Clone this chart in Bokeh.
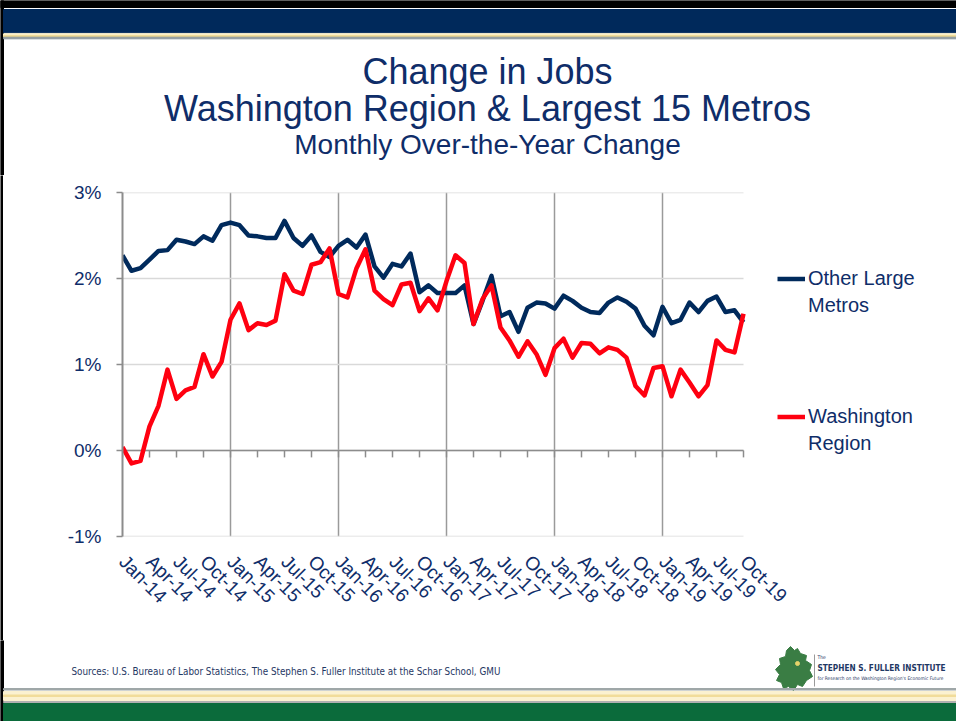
import numpy as np
from bokeh.plotting import figure
from bokeh.models import Range1d, FixedTicker, Legend, LegendItem
from bokeh.layouts import column, row
from bokeh.embed import file_html
from bokeh.resources import INLINE
from bokeh.core.properties import value

# ---------------- data ----------------
tick_labels = ["Jan-14", "Apr-14", "Jul-14", "Oct-14",
               "Jan-15", "Apr-15", "Jul-15", "Oct-15",
               "Jan-16", "Apr-16", "Jul-16", "Oct-16",
               "Jan-17", "Apr-17", "Jul-17", "Oct-17",
               "Jan-18", "Apr-18", "Jul-18", "Oct-18",
               "Jan-19", "Apr-19", "Jul-19", "Oct-19"]
y_ticks = [-1, 0, 1, 2, 3]
y_tick_labels = ["-1%", "0%", "1%", "2%", "3%"]

other_large = [2.27, 2.09, 2.12, 2.22, 2.32, 2.33, 2.45, 2.43, 2.40, 2.49, 2.44, 2.62,
               2.65, 2.62, 2.50, 2.49, 2.47, 2.47, 2.67, 2.47, 2.38, 2.50, 2.31, 2.25,
               2.38, 2.45, 2.36, 2.51, 2.14, 2.01, 2.17, 2.14, 2.29, 1.84, 1.92, 1.83,
               1.83, 1.83, 1.92, 1.47, 1.74, 2.03, 1.56, 1.61, 1.38, 1.66, 1.72, 1.71,
               1.65, 1.80, 1.74, 1.66, 1.61, 1.60, 1.72, 1.78, 1.73, 1.65, 1.45, 1.34,
               1.67, 1.48, 1.52, 1.72, 1.61, 1.74, 1.79, 1.61, 1.63, 1.49]
washington = [0.04, -0.15, -0.12, 0.28, 0.52, 0.94, 0.60, 0.70, 0.74, 1.12, 0.86, 1.03,
              1.52, 1.71, 1.40, 1.48, 1.46, 1.51, 2.05, 1.86, 1.82, 2.16, 2.19, 2.35,
              1.82, 1.78, 2.12, 2.34, 1.86, 1.76, 1.69, 1.93, 1.95, 1.62, 1.77, 1.63,
              1.97, 2.27, 2.18, 1.47, 1.76, 1.92, 1.43, 1.28, 1.09, 1.27, 1.12, 0.88,
              1.19, 1.30, 1.08, 1.25, 1.24, 1.13, 1.20, 1.17, 1.08, 0.75, 0.64, 0.96,
              0.98, 0.63, 0.94, 0.79, 0.63, 0.76, 1.28, 1.17, 1.14, 1.59]

months = list(range(len(other_large)))
quarter_ticks = months[::3]
year_ticks = months[::12]

# ---------------- styles ----------------
W = 956
STRIP = 3
FONT = "Liberation Sans"
NARROW = "DejaVu Sans Condensed, Liberation Sans"
TXT = "#0F2D69"
NAVY = "#002A5C"
RED = "#FF0010"
PX_PER_MONTH = 9.0
LEGEND_SPACE = 213  # px to the right of the last month (legend area)


def deco_fig(h, y0, y1):
    f = figure(width=W, height=h, x_range=Range1d(0, W), y_range=Range1d(y1, y0),
               output_backend="svg", toolbar_location=None, min_border=0,
               x_axis_location=None, y_axis_location=None, title=None,
               frame_align=False)
    f.grid.visible = False
    f.outline_line_color = None
    f.quad(left=0, right=STRIP, top=y0, bottom=y1, color="black")
    return f


# ---------------- header ----------------
header = deco_fig(175, 0, 175)
header.quad(left=0, right=W, top=0, bottom=7, color="black")
header.quad(left=STRIP, right=W, top=9, bottom=32.3, color="#00295B")
header.quad(left=STRIP, right=W, top=33.3, bottom=36.5, color="#FBEFC6")
header.quad(left=STRIP, right=W, top=35.3, bottom=36.3, color="#EFD98E")
header.quad(left=STRIP, right=W, top=36.7, bottom=38.3, color="#8E9A9F")
for txt, yc, fs in [("Change in Jobs", 70.5, "36px"),
                    ("Washington Region & Largest 15 Metros", 107.5, "36px"),
                    ("Monthly Over-the-Year Change", 143.5, "28px")]:
    header.text(x=[487], y=[yc], text=[txt], text_font=value(FONT), text_font_size=fs,
                text_align="center", text_baseline="middle", text_color=TXT)

# ---------------- main chart ----------------
strip = figure(width=STRIP, height=465, output_backend="svg", toolbar_location=None,
               min_border=0, x_axis_location=None, y_axis_location=None, title=None,
               frame_align=False, background_fill_color="black", border_fill_color="black")
strip.grid.visible = False
strip.outline_line_color = None

x_end = months[-1] + LEGEND_SPACE / PX_PER_MONTH
p = figure(width=W - STRIP, height=465, x_range=Range1d(months[0], x_end),
           y_range=Range1d(y_ticks[0], y_ticks[-1]),
           output_backend="svg", toolbar_location=None, title=None, frame_align=False,
           min_border_left=122 - STRIP, min_border_right=0, min_border_top=17, min_border_bottom=104)
p.outline_line_color = None

p.xaxis.ticker = FixedTicker(ticks=quarter_ticks)
p.xaxis.major_label_overrides = {t: lab for t, lab in zip(quarter_ticks, tick_labels)}
p.xaxis.major_label_orientation = -np.pi / 4
p.xaxis.axis_line_color = None
p.xaxis.major_tick_line_color = None
p.xaxis.minor_tick_line_color = None
p.xaxis.major_label_text_font_size = "19px"
p.xaxis.major_label_text_font = FONT
p.xaxis.major_label_text_color = TXT
p.xaxis.major_label_standoff = 16

p.yaxis.ticker = FixedTicker(ticks=y_ticks)
p.yaxis.major_label_overrides = {t: lab for t, lab in zip(y_ticks, y_tick_labels)}
p.yaxis.axis_line_color = "#8C8C8C"
p.yaxis.axis_line_width = 2
p.yaxis.major_tick_line_color = "#8C8C8C"
p.yaxis.major_tick_line_width = 1.5
p.yaxis.major_tick_out = 6
p.yaxis.major_tick_in = 0
p.yaxis.minor_tick_line_color = None
p.yaxis.major_label_text_font_size = "19px"
p.yaxis.major_label_text_font = FONT
p.yaxis.major_label_text_color = TXT
p.yaxis.major_label_standoff = 15

p.xgrid.ticker = FixedTicker(ticks=year_ticks)
p.xgrid.grid_line_color = "#9A9A9A"
p.xgrid.grid_line_width = 1.5
p.ygrid.visible = False
# horizontal gridlines limited to the data span
p.segment(x0=[months[0]] * len(y_ticks), y0=y_ticks, x1=[months[-1]] * len(y_ticks), y1=y_ticks,
          line_color="#D9D9D9", line_width=1.5)
# zero line + quarter ticks
p.segment(x0=[months[0]], y0=[0], x1=[months[-1]], y1=[0], line_color="#8C8C8C", line_width=1.5)
p.segment(x0=quarter_ticks, y0=0, x1=quarter_ticks, y1=-0.08,
          line_color="#8C8C8C", line_width=1.5)

r_navy = p.line(months, other_large, line_color=NAVY, line_width=4.5, line_join="round")
r_red = p.line(months, washington, line_color=RED, line_width=4.5, line_join="round")
dummy = p.line(x=[], y=[], line_alpha=0)


def make_legend(items, loc):
    lg = Legend(items=items, location=loc, label_text_font_size="20px",
                label_text_font=FONT, label_text_color=TXT, glyph_width=28,
                glyph_height=25, label_height=25, spacing=2, padding=0, margin=0,
                border_line_color=None, background_fill_alpha=0, label_standoff=3)
    p.add_layout(lg)


make_legend([LegendItem(label="Other Large", renderers=[r_navy]),
             LegendItem(label="Metros", renderers=[dummy])], (655, 218))
make_legend([LegendItem(label="Washington", renderers=[r_red]),
             LegendItem(label="Region", renderers=[dummy])], (655, 80))

# ---------------- footer ----------------
footer = deco_fig(81, 640, 721)
footer.text(x=[71], y=[671], text=["Sources: U.S. Bureau of Labor Statistics, The Stephen S. Fuller Institute at the Schar School, GMU"],
            text_font=value(NARROW), text_font_size="9.8px", text_color="#1F3864",
            text_align="left", text_baseline="middle")
blob_x = [790, 794, 797, 800, 806, 805, 811, 809, 812, 806, 802, 797, 793, 788, 783, 781, 776, 779, 775, 780, 779, 785, 786]
blob_y = [646, 650, 648, 653, 655, 660, 664, 670, 676, 680, 686, 684, 690, 686, 688, 682, 680, 674, 669, 664, 658, 656, 650]
footer.patch(blob_x, blob_y, color="#3A7D44")
footer.scatter(x=[797], y=[663], size=4, color="#E5D36A")
footer.segment(x0=[814], y0=[654], x1=[814], y1=[686], line_color="#9A9A9A", line_width=1)
footer.text(x=[817], y=[656], text=["The"], text_font=value(NARROW), text_font_size="5px",
            text_color="#1F3864", text_baseline="middle")
footer.text(x=[817], y=[667], text=["STEPHEN S. FULLER INSTITUTE"], text_font=value(NARROW),
            text_font_size="8.2px", text_font_style="bold", text_color="#1F3864",
            text_baseline="middle")
footer.text(x=[817], y=[678], text=["for Research on the Washington Region's Economic Future"],
            text_font=value(NARROW), text_font_size="4.8px", text_color="#1F3864",
            text_baseline="middle")
footer.quad(left=STRIP, right=W, top=688, bottom=689.5, color="#9FA7A8")
footer.quad(left=STRIP, right=W, top=691, bottom=700, color="#FBF1D0")
footer.quad(left=STRIP, right=W, top=694.5, bottom=696, color="#F1DC9A")
footer.quad(left=STRIP, right=W, top=701, bottom=702, color="#B0B0B0")
footer.quad(left=STRIP, right=W, top=703, bottom=721, color="#0B6B3B")

layout = column(header, row(strip, p), footer)
open("out.html", "w").write(file_html(layout, INLINE))
